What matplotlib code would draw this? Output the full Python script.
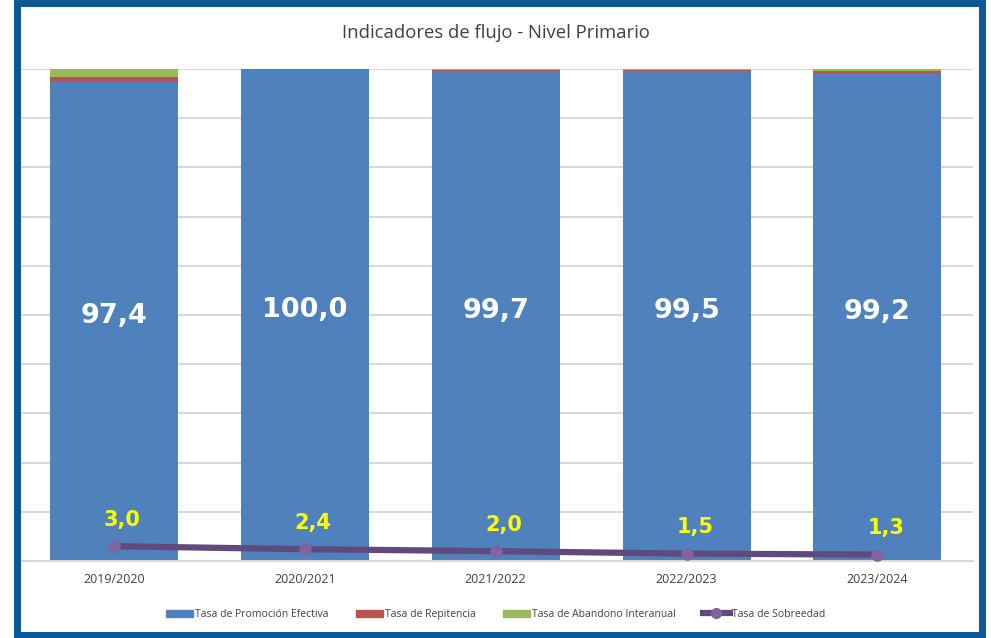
import numpy as np
import matplotlib.pyplot as plt
from matplotlib.patches import Rectangle
from matplotlib.lines import Line2D

periodos = ["2019/2020", "2020/2021", "2021/2022", "2022/2023", "2023/2024"]
promocion = [97.4, 100.0, 99.7, 99.5, 99.2]
repitencia = [0.9, 0.0, 0.2, 0.3, 0.5]
abandono = [1.7, 0.0, 0.1, 0.2, 0.3]
sobreedad = [3.0, 2.4, 2.0, 1.5, 1.3]

c_promo = "#4f81bd"
c_rep = "#c0504d"
c_aban = "#9bbb59"
c_line = "#604a7b"
c_mark = "#8064a2"

fig = plt.figure(figsize=(9.91, 6.38), dpi=100)
ax = fig.add_axes([0.0187, 0.1207, 0.963, 0.7711])

x = np.arange(len(periodos))
w = 0.67
ax.bar(x, promocion, w, color=c_promo, zorder=2)
bot = np.array(promocion)
ax.bar(x, repitencia, w, bottom=bot, color=c_rep, zorder=2)
bot = bot + np.array(repitencia)
ax.bar(x, abandono, w, bottom=bot, color=c_aban, zorder=2)

ax.plot(x, sobreedad, color=c_line, lw=4.5, marker="o", markersize=8,
        markerfacecolor=c_mark, markeredgecolor=c_mark, zorder=3)

for xi, v in zip(x, promocion):
    ax.text(xi, v / 2 + 1, f"{v:.1f}".replace(".", ","), ha="center", va="center",
            color="white", fontsize=19.5, fontweight="bold", family="DejaVu Sans", zorder=4)
for xi, v in zip(x, sobreedad):
    ax.annotate(f"{v:.1f}".replace(".", ","), (xi, v), xytext=(6, 19),
                textcoords="offset points", ha="center", va="center",
                color="#ffff00", fontsize=15, fontweight="bold", family="DejaVu Sans", zorder=4)

ax.set_xlim(-0.5, len(periodos) - 0.5)
ax.set_ylim(0, 100)
ax.set_yticks(np.arange(0, 101, 10))
ax.set_yticklabels([])
ax.yaxis.grid(True, color="#d9d9d9", lw=1.5, zorder=0)
ax.tick_params(axis="y", length=2, color="#bfbfbf", width=1)
ax.set_xticks(x)
ax.set_xticklabels(periodos, fontsize=9, color="#404040", family="Open Sans")
ax.tick_params(axis="x", length=0, pad=9)
for s in ["top", "right", "left"]:
    ax.spines[s].set_visible(False)
ax.spines["bottom"].set_color("#d9d9d9")
ax.spines["bottom"].set_linewidth(1.5)

fig.text(0.5, 0.948, "Indicadores de flujo - Nivel Primario", ha="center", va="center",
         fontsize=13.3, color="#404040", family="Open Sans")

handles = [
    Rectangle((0, 0), 1, 1, color=c_promo),
    Rectangle((0, 0), 1, 1, color=c_rep),
    Rectangle((0, 0), 1, 1, color=c_aban),
    Line2D([0], [0], color=c_line, lw=4.5, marker="o", markersize=7,
           markerfacecolor=c_mark, markeredgecolor=c_mark),
]
labels = ["Tasa de Promoción Efectiva", "Tasa de Repitencia",
          "Tasa de Abandono Interanual", "Tasa de Sobreedad"]
leg = fig.legend(handles, labels, loc="center", bbox_to_anchor=(0.5, 0.037), ncol=4,
                 frameon=False, prop={"family": "Open Sans", "size": 7.5},
                 handlelength=2.6, handleheight=0.7, handletextpad=0.2, columnspacing=2.6)
for t in leg.get_texts():
    t.set_color("#404040")

# blue frame around the whole chart
fig.patches.append(Rectangle((16.5 / 991, 3 / 638), 965 / 991, 632 / 638,
                             transform=fig.transFigure, fill=False,
                             edgecolor="#0a5896", lw=5, zorder=10))

fig.savefig("out.png", dpi=100)
